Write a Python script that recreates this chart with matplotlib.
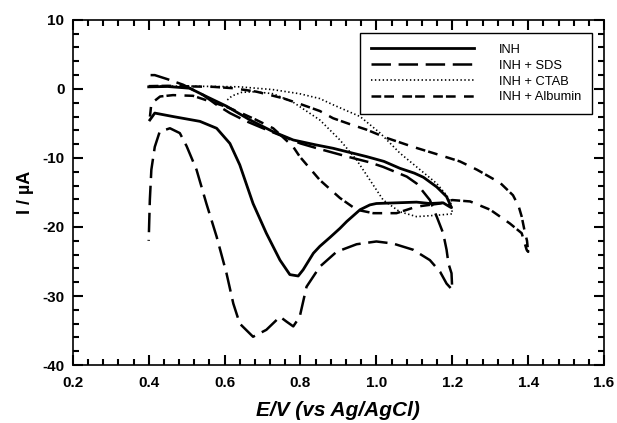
import matplotlib
matplotlib.use("Agg")
import matplotlib.pyplot as plt
from matplotlib.ticker import MultipleLocator, FormatStrFormatter

plt.rcParams['font.family'] = ['Liberation Sans', 'DejaVu Sans']
plt.rcParams['axes.unicode_minus'] = False
plt.rcParams['lines.scale_dashes'] = False

# ---- data (E / V, I / uA) ----
inh_E = [0.400, 0.450, 0.508, 0.552, 0.605, 0.667, 0.728, 0.781, 0.840, 0.886, 0.930, 0.974,
         1.020, 1.062, 1.100, 1.124, 1.159, 1.185, 1.198,
         1.194, 1.176, 1.141, 1.106, 1.053, 1.000, 0.983, 0.957, 0.922, 0.904, 0.878, 0.851,
         0.834, 0.807, 0.794, 0.772, 0.746, 0.710, 0.675, 0.640, 0.614, 0.579, 0.535, 0.464,
         0.416, 0.403]
inh_I = [0.3, 0.35, 0.1, -1.1, -2.5, -4.5, -6.2, -7.4, -8.1, -8.6, -9.2, -9.8,
         -10.5, -11.5, -12.2, -12.8, -14.2, -15.6, -17.2,
         -17.1, -16.5, -16.6, -16.4, -16.5, -16.6, -16.8, -17.5, -19.2, -20.2, -21.5, -22.8,
         -23.8, -26.2, -27.1, -26.9, -24.8, -20.9, -16.6, -11.0, -7.9, -5.7, -4.7, -4.0,
         -3.5, -4.5]

sds_E = [0.405, 0.416, 0.450, 0.491, 0.543, 0.579, 0.614, 0.658, 0.710, 0.746, 0.800, 0.850,
         0.930, 0.980, 1.018, 1.080, 1.106, 1.141, 1.159, 1.176, 1.185, 1.190, 1.198, 1.200,
         1.185, 1.168, 1.141, 1.097, 1.044, 1.000, 0.948, 0.895, 0.851, 0.816, 0.798, 0.781,
         0.763, 0.746, 0.710, 0.675, 0.640, 0.623, 0.605, 0.579, 0.552, 0.526, 0.500, 0.482,
         0.456, 0.429, 0.416, 0.407, 0.403, 0.400]
sds_I = [2.0, 2.0, 1.4, 0.6, -0.87, -2.3, -3.5, -4.7, -5.9, -6.7, -7.9, -8.7,
         -9.9, -10.6, -11.3, -12.7, -13.7, -16.1, -18.5, -20.9, -23.3, -25.3, -26.7, -29.1,
         -28.2, -26.5, -24.8, -23.3, -22.4, -22.1, -22.5, -23.6, -25.75, -28.65, -33.0, -34.4,
         -33.7, -33.0, -34.9, -35.9, -34.0, -31.1, -26.7, -21.4, -16.6, -11.7, -8.3, -6.4,
         -5.7, -6.2, -8.4, -11.7, -16.1, -22.0]

ctab_E = [0.420, 0.500, 0.580, 0.640, 0.727, 0.798, 0.851, 0.886, 0.957, 1.010, 1.062, 1.115,
          1.159, 1.185, 1.198,
          1.200, 1.159, 1.106, 1.062, 1.018, 0.983, 0.948, 0.904, 0.851, 0.798, 0.780, 0.728,
          0.680, 0.645, 0.620, 0.605]
ctab_I = [0.4, 0.4, 0.35, 0.3, -0.1, -0.7, -1.4, -2.3, -4.0, -6.4, -9.3, -11.7,
          -13.7, -15.4, -16.8,
          -18.1, -18.3, -18.5, -17.8, -16.1, -13.2, -10.3, -7.4, -4.5, -2.56, -1.9, -0.7,
          -0.4, -0.5, -1.0, -1.7]

alb_E = [0.400, 0.450, 0.520, 0.570, 0.623, 0.684, 0.754, 0.800, 0.851, 0.886, 0.930, 0.974,
         1.027, 1.097, 1.168, 1.220, 1.265, 1.326, 1.360, 1.375, 1.383, 1.390, 1.397, 1.400,
         1.396, 1.383, 1.352, 1.300, 1.247, 1.200, 1.168, 1.106, 1.053, 0.992, 0.948, 0.904,
         0.851, 0.798, 0.781, 0.750, 0.728, 0.684, 0.640, 0.605, 0.561, 0.517, 0.464, 0.430,
         0.407, 0.403]
alb_I = [0.4, 0.45, 0.35, 0.3, 0.1, -0.4, -1.35, -2.2, -3.2, -4.25, -5.1, -5.9,
         -7.1, -8.4, -9.6, -10.5, -11.7, -13.6, -15.4, -17.0, -18.5, -20.4, -22.0, -23.6,
         -23.3, -20.9, -19.5, -17.5, -16.3, -16.1, -16.6, -17.05, -18.0, -18.0, -17.5, -15.8,
         -13.2, -9.8, -8.4, -6.8, -5.7, -4.5, -3.4, -2.6, -1.8, -1.0, -0.9, -1.1,
         -2.1, -4.2]

labels = ["INH", "INH + SDS", "INH + CTAB", "INH + Albumin"]

x_ticks = [0.2, 0.4, 0.6, 0.8, 1.0, 1.2, 1.4, 1.6]
y_ticks = [-40, -30, -20, -10, 0, 10]

# ---- figure ----
fig = plt.figure(figsize=(6.17, 4.23), dpi=100)
ax = fig.add_axes([0.118, 0.137, 0.861, 0.816])

ax.plot(inh_E, inh_I, color='black', lw=2.0, linestyle='-', label=labels[0],
        solid_joinstyle='round')
ax.plot(sds_E, sds_I, color='black', lw=1.8, dashes=(14, 5.5), label=labels[1])
ax.plot(ctab_E, ctab_I, color='black', lw=1.2, dashes=(1.0, 1.8), label=labels[2])
ax.plot(alb_E, alb_I, color='black', lw=1.8, dashes=(7, 2.2, 7, 6), label=labels[3])

ax.set_xlim(0.2, 1.6)
ax.set_ylim(-40, 10)
ax.set_xticks(x_ticks)
ax.set_yticks(y_ticks)
ax.xaxis.set_major_formatter(FormatStrFormatter('%.1f'))
ax.xaxis.set_minor_locator(MultipleLocator(0.04))
ax.yaxis.set_minor_locator(MultipleLocator(2))

ax.tick_params(which='both', direction='in', top=True, right=True, width=1.5)
ax.tick_params(which='major', length=7.5, labelsize=11, pad=8)
ax.tick_params(which='minor', length=4.5)
for lab in ax.get_xticklabels() + ax.get_yticklabels():
    lab.set_fontweight('bold')
ax.tick_params(axis='y', pad=6)
for sp in ax.spines.values():
    sp.set_linewidth(1.2)

ax.set_xlabel("E/V (vs Ag/AgCl)", fontsize=15, fontweight='bold', style='italic', labelpad=8)
ax.set_ylabel("I / \u00b5A", fontsize=13, fontweight='bold', labelpad=6)

leg = ax.legend(loc='upper right', bbox_to_anchor=(0.977, 0.963), borderaxespad=0,
                fontsize=9.3, handlelength=8.0, handletextpad=1.9, labelspacing=0.3,
                borderpad=0.85, fancybox=False, framealpha=1, edgecolor='black')
leg.get_frame().set_linewidth(1.0)

fig.savefig("out.png", dpi=100)
